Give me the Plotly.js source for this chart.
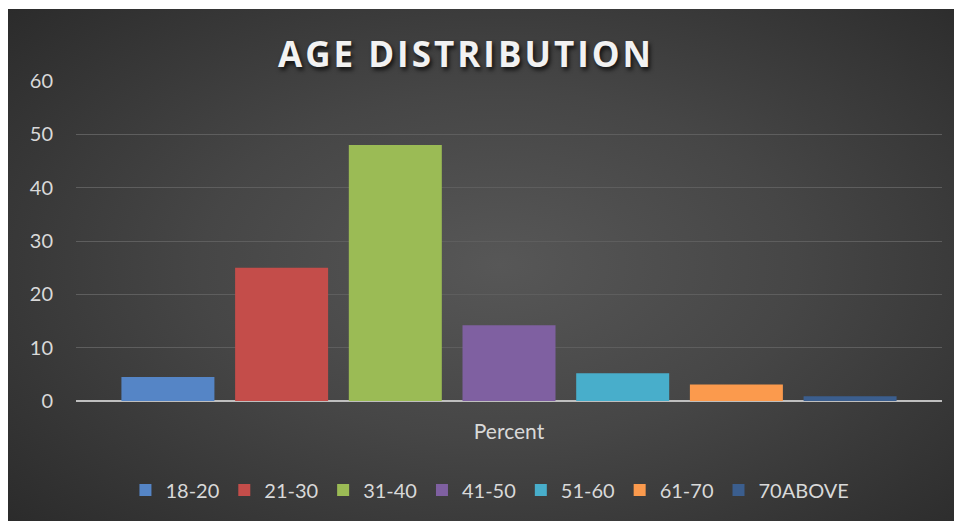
<!DOCTYPE html>
<html>
<head>
<meta charset="utf-8">
<script src="https://cdn.plot.ly/plotly-3.0.1.min.js"></script>
<style>
  html, body { margin: 0; padding: 0; background: #ffffff; }
  #frame { position: absolute; left: 8px; top: 9px; width: 946px; height: 512px;
    background: radial-gradient(ellipse 70% 75% at 52% 50%, #575757 0%, #464646 45%, #2b2b2b 100%); }
  #chart { position: absolute; left: 0; top: 0; width: 955px; height: 521px; }
  .gtitle { text-shadow: 2px 3px 4px rgba(0,0,0,0.75); letter-spacing: 3px; }
</style>
</head>
<body>
<div id="frame"></div>
<div id="chart"></div>
<script>
const categories = ["Percent"];
const seriesNames = ["18-20", "21-30", "31-40", "41-50", "51-60", "61-70", "70ABOVE"];
const seriesValues = [4.5, 25, 48, 14.2, 5.2, 3.1, 0.9];
const seriesColors = ["#5585c6", "#c44d4a", "#9bbb55", "#7f60a1", "#48aecb", "#fb9a4d", "#3b5e8e"];

const traces = seriesNames.map((name, i) => ({
  type: "bar",
  name: name,
  x: categories,
  y: [seriesValues[i]],
  marker: { color: seriesColors[i], line: { width: 0 } },
  hoverinfo: "name+y"
}));

const layout = {
  width: 955, height: 521,
  paper_bgcolor: "rgba(0,0,0,0)",
  plot_bgcolor: "rgba(0,0,0,0)",
  margin: { l: 76, r: 13, t: 81, b: 120 },
  barmode: "group",
  bargap: 0.081,
  bargroupgap: 0.182,
  title: {
    text: "<b>AGE DISTRIBUTION</b>",
    font: { family: "Open Sans, sans-serif", size: 35, color: "#f2f2f2" },
    x: 0.488, xanchor: "center", y: 0.894, yanchor: "middle"
  },
  font: { family: "Lato, sans-serif", color: "#d9d9d9" },
  xaxis: {
    showgrid: false, showline: false, zeroline: false,
    tickfont: { size: 21, color: "#d9d9d9" },
    ticks: "", ticklen: 0,
    ticklabelstandoff: 16
  },
  yaxis: {
    range: [0, 60], dtick: 10, tick0: 0,
    showgrid: true, gridcolor: "#5e5e5e", gridwidth: 1,
    zeroline: true, zerolinecolor: "#bfbfbf", zerolinewidth: 2.5,
    showline: false, ticks: "",
    tickfont: { size: 20, color: "#d9d9d9" },
    ticklabelstandoff: 22
  },
  legend: {
    orientation: "h", x: 0.478, xanchor: "center", y: -0.278, yanchor: "middle",
    font: { size: 20, color: "#d9d9d9" },
    bgcolor: "rgba(0,0,0,0)", itemwidth: 30, traceorder: "normal"
  },
  showlegend: true
};

Plotly.newPlot("chart", traces, layout, { displayModeBar: false, staticPlot: true });
</script>
</body>
</html>
